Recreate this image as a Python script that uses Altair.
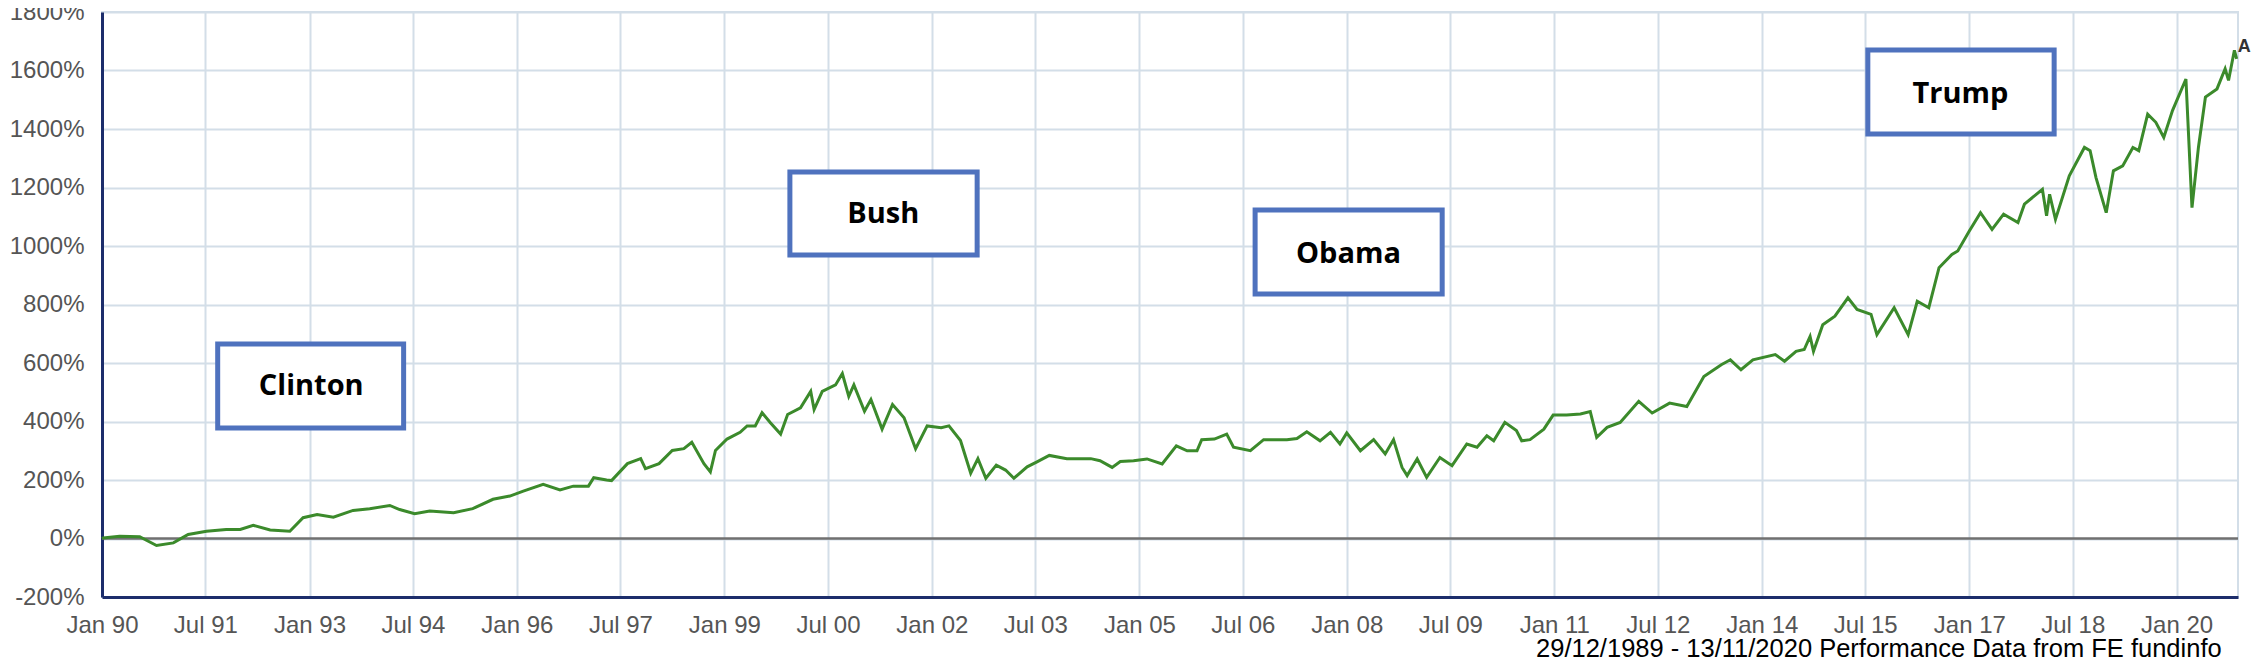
import altair as alt
import pandas as pd

# ---- data ----
dates = [
    "1990-01-01", "1990-01-07", "1990-04-04", "1990-07-19", "1990-10-16", "1991-01-13",
    "1991-04-01", "1991-07-07", "1991-10-19", "1992-01-01", "1992-03-10", "1992-06-07",
    "1992-09-19", "1992-11-28", "1993-02-10", "1993-05-07", "1993-08-19", "1993-11-15",
    "1994-03-01", "1994-04-22", "1994-07-10", "1994-09-28", "1995-02-01", "1995-05-13",
    "1995-08-28", "1995-11-25", "1996-02-04", "1996-05-19", "1996-08-16", "1996-10-25",
    "1997-01-13", "1997-02-10", "1997-04-19", "1997-05-15", "1997-08-07", "1997-10-16",
    "1997-11-10", "1998-01-21", "1998-04-01", "1998-06-01", "1998-07-13", "1998-09-15",
    "1998-10-19", "1998-11-15", "1999-01-15", "1999-03-25", "1999-05-01", "1999-06-13",
    "1999-07-19", "1999-09-01", "1999-10-25", "1999-12-01", "2000-02-07", "2000-04-01",
    "2000-04-19", "2000-06-01", "2000-08-10", "2000-09-15", "2000-10-19", "2000-11-15",
    "2001-01-10", "2001-02-13", "2001-04-13", "2001-06-07", "2001-08-07", "2001-10-07",
    "2001-12-07", "2002-02-19", "2002-04-01", "2002-06-01", "2002-07-25", "2002-09-01",
    "2002-10-13", "2002-12-07", "2003-01-25", "2003-03-10", "2003-05-19", "2003-07-10",
    "2003-09-13", "2003-12-15", "2004-04-19", "2004-06-07", "2004-08-10", "2004-09-22",
    "2004-12-01", "2005-02-10", "2005-05-01", "2005-07-15", "2005-09-10", "2005-11-01",
    "2005-11-26", "2006-02-01", "2006-04-07", "2006-05-13", "2006-08-10", "2006-10-19",
    "2007-02-19", "2007-04-13", "2007-06-04", "2007-08-13", "2007-10-07", "2007-11-26",
    "2008-01-01", "2008-03-13", "2008-05-22", "2008-07-22", "2008-09-04", "2008-10-19",
    "2008-11-15", "2009-01-07", "2009-02-26", "2009-05-07", "2009-07-10", "2009-09-26",
    "2009-11-19", "2010-01-10", "2010-02-15", "2010-04-15", "2010-06-15", "2010-07-13",
    "2010-08-26", "2010-11-07", "2010-12-26", "2011-03-07", "2011-05-19", "2011-07-10",
    "2011-08-13", "2011-10-07", "2011-12-15", "2012-03-22", "2012-06-01", "2012-09-01",
    "2012-12-01", "2013-03-01", "2013-06-01", "2013-07-19", "2013-09-13", "2013-11-15",
    "2014-03-13", "2014-05-01", "2014-07-01", "2014-08-13", "2014-09-13", "2014-10-01",
    "2014-11-19", "2015-01-22", "2015-04-01", "2015-05-19", "2015-08-01", "2015-09-01",
    "2015-12-01", "2016-02-13", "2016-04-01", "2016-06-01", "2016-07-25", "2016-10-01",
    "2016-11-01", "2017-01-01", "2017-03-01", "2017-05-01", "2017-07-01", "2017-09-15",
    "2017-10-19", "2018-01-22", "2018-02-13", "2018-03-01", "2018-04-01", "2018-06-13",
    "2018-09-01", "2018-10-01", "2018-11-01", "2018-12-25", "2019-02-01", "2019-03-22",
    "2019-05-15", "2019-06-15", "2019-08-01", "2019-09-13", "2019-10-25", "2019-12-10",
    "2020-02-19", "2020-03-22", "2020-04-25", "2020-06-01", "2020-08-01", "2020-09-13",
    "2020-10-01", "2020-11-01", "2020-11-13",
]
values = [
    0, 2, 8, 6, -24, -15,
    14, 25, 31, 31, 45, 29,
    25, 71, 82, 73, 96, 102,
    113, 99, 85, 94, 88, 102,
    134, 145, 162, 185, 166, 179,
    179, 208, 200, 198, 256, 273,
    239, 256, 301, 307, 329, 256,
    228, 301, 340, 363, 385, 385,
    430, 396, 357, 424, 447, 503,
    441, 503, 525, 564, 486, 525,
    435, 475, 374, 458, 413, 307,
    385, 379, 385, 335, 223, 273,
    206, 251, 234, 206, 245, 262,
    284, 273, 273, 266, 243, 263,
    266, 272, 255, 317, 300, 300,
    338, 340, 357, 312, 300, 338,
    338, 342, 365, 334, 363, 323,
    361, 300, 338, 289, 338, 243,
    215, 272, 209, 277, 249, 323,
    312, 351, 334, 397, 369, 334,
    338, 374, 422, 422, 426, 434,
    346, 380, 397, 469, 429, 463,
    451, 554, 594, 611, 577, 611,
    629, 606, 640, 646, 691, 640,
    731, 760, 823, 783, 766, 697,
    789, 697, 811, 789, 926, 971,
    983, 1051, 1114, 1057, 1109, 1080,
    1143, 1194, 1103, 1177, 1091, 1240,
    1337, 1326, 1234, 1114, 1257, 1274,
    1337, 1326, 1451, 1423, 1371, 1463,
    1571, 1131, 1337, 1509, 1537, 1606,
    1566, 1669, 1640,
]

x_ticks = [
    "1990-01-01", "1991-07-01", "1993-01-01", "1994-07-01", "1996-01-01", "1997-07-01",
    "1999-01-01", "2000-07-01", "2002-01-01", "2003-07-01", "2005-01-01", "2006-07-01",
    "2008-01-01", "2009-07-01", "2011-01-01", "2012-07-01", "2014-01-01", "2015-07-01",
    "2017-01-01", "2018-07-01", "2020-01-01",
]
y_ticks = [-200, 0, 200, 400, 600, 800, 1000, 1200, 1400, 1600, 1800]

# annotation boxes (in data units)
box_labels = ["Clinton", "Bush", "Obama", "Trump"]
box_start = ["1991-09-04", "1999-12-13", "2006-09-04", "2015-07-15"]
box_end = ["1994-05-13", "2002-08-28", "2009-05-19", "2018-03-25"]
box_top = [665, 1253, 1123, 1670]
box_bottom = [378, 969, 836, 1383]
label_date = ["1993-01-10", "2001-04-19", "2008-01-10", "2016-11-15"]
label_value = [520, 1108, 974, 1521]

caption = "29/12/1989 - 13/11/2020 Performance Data from FE fundinfo"

df = pd.DataFrame({"date": dates, "value": values})
boxes = pd.DataFrame({
    "label": box_labels, "start": box_start, "end": box_end,
    "top": box_top, "bottom": box_bottom, "ldate": label_date, "lval": label_value,
})
end_df = df.tail(1).assign(tag="A")

x_scale = alt.Scale(domain=["1990-01-01", "2020-11-20"], nice=False)
y_scale = alt.Scale(domain=[-200, 1800], nice=False, zero=False)

x_axis = alt.Axis(
    values=x_ticks, labelExpr="timeFormat(datum.value, '%b %y')", title=None,
    ticks=False, labelPadding=16, grid=True, gridColor="#d3dee8", gridWidth=2,
    domainColor="#1c2d6b", domainWidth=3, labelFont="Liberation Sans",
    labelFontSize=24, labelColor="#555555", labelFlush=False, labelOverlap=False,
)
y_axis = alt.Axis(
    values=y_ticks, labelExpr="datum.value + '%'", title=None, ticks=False,
    labelPadding=18, grid=True, gridColor="#d3dee8", gridWidth=2,
    domainColor="#1c2d6b", domainWidth=3, labelFont="Liberation Sans",
    labelFontSize=24, labelColor="#555555", labelOverlap=False,
)

line = alt.Chart(df).mark_line(color="#3b8a2b", strokeWidth=3).encode(
    x=alt.X("date:T", scale=x_scale, axis=x_axis),
    y=alt.Y("value:Q", scale=y_scale, axis=y_axis),
)

zero = alt.Chart(pd.DataFrame({"v": [0]})).mark_rule(color="#707070", strokeWidth=2.5).encode(
    y=alt.Y("v:Q", scale=y_scale)
)

rects = alt.Chart(boxes).mark_rect(fill="white", stroke="#4f72be", strokeWidth=5).encode(
    x=alt.X("start:T", scale=x_scale), x2="end:T",
    y=alt.Y("top:Q", scale=y_scale), y2="bottom:Q",
)

texts = alt.Chart(boxes).mark_text(
    font="Open Sans", fontSize=29, fontWeight="bold", color="black",
    align="center", baseline="middle",
).encode(
    x=alt.X("ldate:T", scale=x_scale), y=alt.Y("lval:Q", scale=y_scale), text="label:N"
)

tag = alt.Chart(end_df).mark_text(
    font="Liberation Sans", fontSize=18, fontWeight="bold", color="#333333",
    align="left", baseline="middle", dx=1, dy=-12,
).encode(
    x=alt.X("date:T", scale=x_scale), y=alt.Y("value:Q", scale=y_scale), text="tag:N"
)

chart = alt.layer(zero, line, rects, texts, tag).properties(
    width=2136, height=585,
    autosize=alt.AutoSizeParams(type="none"),
    padding={"left": 94, "top": 4, "right": 14, "bottom": 61},
    title=alt.TitleParams(
        text=caption, orient="bottom", anchor="end", font="Liberation Sans",
        fontSize=25.5, fontWeight="normal", color="#000000", offset=0, dx=-29,
    ),
).configure_view(stroke="#d3dee8", strokeWidth=2)

chart.save("out.html", embed_options={"renderer": "svg", "actions": False})
